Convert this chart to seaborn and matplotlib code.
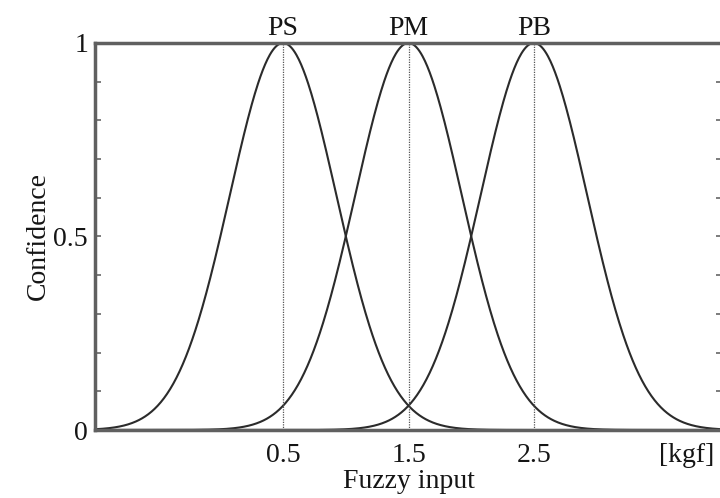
import numpy as np
import pandas as pd
import matplotlib
matplotlib.use("Agg")
import matplotlib.pyplot as plt
import seaborn as sns
from matplotlib.ticker import MultipleLocator

# membership functions (gaussian)
set_names = ["PS", "PM", "PB"]
centers = [0.5, 1.5, 2.5]
width = 0.425          # curves cross at 0.5 halfway between centres

x_ticks = [0.5, 1.5, 2.5, 3.72]
x_tick_labels = ["0.5", "1.5", "2.5", "[kgf]"]
y_ticks = [0, 0.5, 1]
y_tick_labels = ["0", "0.5", "1"]

sns.set_style("ticks")
plt.rcParams["font.family"] = ["Liberation Serif", "DejaVu Serif"]

x = np.linspace(-1, 4, 801)
frames = []
for name, c in zip(set_names, centers):
    frames.append(pd.DataFrame({
        "input": x,
        "confidence": np.exp(-(x - c) ** 2 / (2 * width ** 2)),
        "set": name,
    }))
df = pd.concat(frames, ignore_index=True)

fig = plt.figure(figsize=(7.2, 4.98), dpi=100)
ax = fig.add_axes([95 / 720, 68 / 498, 627 / 720, 387 / 498])

sns.lineplot(data=df, x="input", y="confidence", units="set", estimator=None,
             color="#2b2b2b", linewidth=1.5, ax=ax, legend=False)

txt = "#151515"
fs = 20
for name, c in zip(set_names, centers):
    ax.plot([c, c], [0, 1], color="#555555", linestyle=(0, (1, 1)), linewidth=0.9)
    ax.text(c, 1.006, name, ha="center", va="bottom", fontsize=fs, color=txt)

ax.set_xlim(-1, 4)
ax.set_ylim(0, 1)

ax.set_xticks(x_ticks)
ax.set_xticklabels(x_tick_labels, fontsize=fs, color=txt)
ax.tick_params(axis="x", length=0, pad=9)

ax.set_yticks(y_ticks)
ax.set_yticklabels(y_tick_labels, fontsize=fs, color=txt)
ax.yaxis.set_minor_locator(MultipleLocator(0.1))
ax.tick_params(axis="y", which="both", direction="in", right=True,
               length=4, width=1.2, color="#666666", pad=5)

ax.set_xlabel("Fuzzy input", fontsize=fs, color=txt, labelpad=1)
ax.set_ylabel("Confidence", fontsize=fs, color=txt, labelpad=2)

for side in ["left", "right", "top", "bottom"]:
    ax.spines[side].set_visible(True)
    ax.spines[side].set_color("#606060")
    ax.spines[side].set_linewidth(2.5)

fig.savefig("out.png", dpi=100)
